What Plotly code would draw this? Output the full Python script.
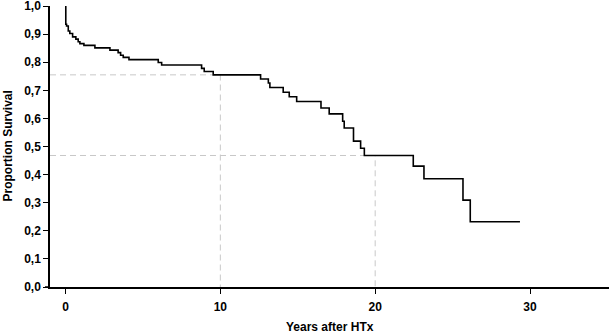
import numpy as np
import plotly.graph_objects as go

# Kaplan-Meier step data (years after HTx, proportion surviving)
years = [0.0, 0.02, 0.07, 0.18, 0.28, 0.46, 0.67, 0.82, 0.93, 1.19, 1.90, 2.87, 3.40,
         3.56, 3.73, 4.10, 5.99, 6.21, 8.79, 8.96, 9.54, 12.6, 13.1, 13.2, 14.06, 14.45,
         14.93, 16.5, 17.03, 17.9, 18.0, 18.6, 19.06, 19.3, 22.46, 23.15, 25.67, 26.14, 29.35]
survival = [1.0, 0.935, 0.929, 0.911, 0.902, 0.89, 0.882, 0.873, 0.866, 0.86, 0.851, 0.843,
            0.834, 0.825, 0.817, 0.809, 0.799, 0.79, 0.778, 0.767, 0.755, 0.740, 0.726, 0.71,
            0.693, 0.677, 0.66, 0.637, 0.616, 0.590, 0.566, 0.519, 0.494, 0.468, 0.43, 0.385,
            0.309, 0.232, 0.232]
landmarks = [10, 20]
x_ticks = [0, 10, 20, 30]
x_ticklabels = ["0", "10", "20", "30"]
y_ticks = [0.0, 0.1, 0.2, 0.3, 0.4, 0.5, 0.6, 0.7, 0.8, 0.9, 1.0]
y_ticklabels = ["0,0", "0,1", "0,2", "0,3", "0,4", "0,5", "0,6", "0,7", "0,8", "0,9", "1,0"]
x_title = "Years after HTx"
y_title = "Proportion Survival"

FONT = "Liberation Sans, Arial, sans-serif"
fig = go.Figure()

# landmark dashed guide lines
for lm in landmarks:
    idx = np.searchsorted(years, lm, side="right") - 1
    s = survival[idx]
    fig.add_trace(go.Scatter(x=[-1, lm, lm], y=[s, s, 0], mode="lines",
                             line=dict(color="#c8c8c8", width=1, dash="6px,4px"),
                             hoverinfo="skip", showlegend=False))

fig.add_trace(go.Scatter(x=years, y=survival, mode="lines",
                         line=dict(color="black", width=1.6, shape="hv"),
                         showlegend=False, cliponaxis=False))

tickfont = dict(family=FONT, size=12, color="black")
fig.update_layout(
    width=609, height=334,
    margin=dict(l=50, r=0, t=6, b=47, autoexpand=False),
    plot_bgcolor="white", paper_bgcolor="white",
    font=dict(family=FONT, color="black"),
    xaxis=dict(range=[-1, 35.1], tickvals=x_ticks, ticktext=["<b>%s</b>" % t for t in x_ticklabels],
               ticks="outside", ticklen=5, ticklabelstandoff=3,
               tickwidth=1.3, tickcolor="black", showgrid=False, zeroline=False,
               showline=True, linecolor="black", linewidth=1.5, automargin=False,
               tickfont=tickfont, ticklabeloverflow="allow"),
    yaxis=dict(range=[0, 1.0], tickvals=y_ticks, ticktext=["<b>%s</b>" % t for t in y_ticklabels],
               ticks="outside", ticklen=5, tickwidth=1.3, tickcolor="black", showgrid=False,
               zeroline=False, showline=True, linecolor="black", linewidth=1.5,
               automargin=False, tickfont=tickfont, ticklabeloverflow="allow"),
    annotations=[
        dict(text="<b>" + x_title + "</b>", xref="paper", yref="paper", x=0.5, y=0,
             yshift=-40, xanchor="center", yanchor="middle", showarrow=False,
             font=dict(family=FONT, size=12, color="black")),
        dict(text="<b>" + y_title + "</b>", xref="paper", yref="paper", x=0, y=0.5,
             xshift=-43, xanchor="center", yanchor="middle", showarrow=False, textangle=-90,
             font=dict(family=FONT, size=12, color="black")),
    ],
    shapes=[dict(type="line", xref="paper", yref="paper", x0=-5 / 559, x1=0, y0=0, y1=0,
                 line=dict(color="black", width=1.5))],
)

fig.write_html("out.html", config={"displayModeBar": False},
               post_script="document.body.style.margin='0';")
